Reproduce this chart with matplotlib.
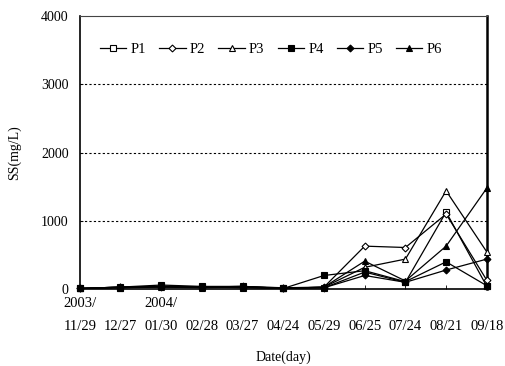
import matplotlib.pyplot as plt
import numpy as np

plt.rcParams["font.family"] = ["Liberation Serif", "DejaVu Serif"]

dates = ["2003/\n11/29", "\n12/27", "2004/\n01/30", "\n02/28", "\n03/27", "\n04/24",
         "\n05/29", "\n06/25", "\n07/24", "\n08/21", "\n09/18"]

p1 = [10, 20, 40, 30, 20, 10, 20, 250, 100, 1130, 40]
p2 = [10, 30, 30, 30, 30, 20, 30, 630, 610, 1100, 130]
p3 = [10, 20, 30, 20, 30, 10, 30, 320, 440, 1440, 545]
p4 = [10, 30, 60, 40, 40, 10, 200, 270, 110, 400, 50]
p5 = [10, 30, 40, 30, 40, 20, 20, 200, 100, 280, 440]
p6 = [10, 30, 40, 30, 40, 10, 30, 410, 120, 630, 1480]

series = [
    ("P1", p1, "s", "white"),
    ("P2", p2, "D", "white"),
    ("P3", p3, "^", "white"),
    ("P4", p4, "s", "black"),
    ("P5", p5, "D", "black"),
    ("P6", p6, "^", "black"),
]

fig = plt.figure(figsize=(5.05, 3.66), dpi=100)
ax = fig.add_axes([0.158, 0.21, 0.806, 0.746])

x = np.arange(len(dates))
for name, vals, mk, fc in series:
    ms = 3.5 if mk == "D" else 4
    ax.plot(x, vals, color="black", lw=0.9, marker=mk, ms=ms,
            markerfacecolor=fc, markeredgecolor="black", markeredgewidth=0.8,
            label=name, clip_on=False, zorder=3)

ax.set_xlim(0, 10)
ax.set_ylim(0, 4000)
ax.set_yticks([0, 1000, 2000, 3000, 4000])
ax.set_xticks(x)
ax.set_xticklabels(dates, fontsize=10.5, linespacing=2.0)
ax.tick_params(axis="x", direction="in", length=3, width=0.6, pad=6)
ax.tick_params(axis="y", direction="in", length=2, width=0.6, labelsize=10, pad=8)

for yv in [1000, 2000, 3000]:
    ax.axhline(yv, color="black", lw=0.8, ls=(0, (2, 2)), zorder=1)

for side in ["left", "bottom"]:
    ax.spines[side].set_linewidth(1.2)
ax.spines["right"].set_linewidth(1.8)
ax.spines["top"].set_linewidth(0.8)
ax.spines["top"].set_color("#444444")

ax.set_ylabel("SS(mg/L)", fontsize=10, labelpad=14)
ax.set_xlabel("Date(day)", fontsize=10, labelpad=12)

ax.legend(loc="upper center", bbox_to_anchor=(0.47, 0.95), ncol=6, frameon=False,
          fontsize=10.5, handlelength=1.8, handletextpad=0.3, columnspacing=0.9)

fig.savefig("out.png", dpi=100)
